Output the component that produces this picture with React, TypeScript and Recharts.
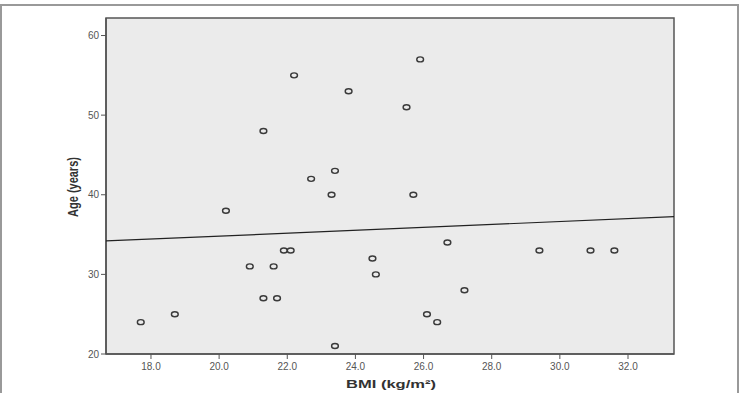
import React from 'react';
import { ScatterChart, Scatter, XAxis, YAxis, CartesianGrid, ReferenceArea } from 'recharts';

// BMI (kg/m²) and age (years) for each subject
const bmiValues = [
  17.7, 18.7, 20.2, 20.9, 21.3, 21.3, 21.6, 21.7, 21.9, 22.1, 22.2, 22.7, 23.3, 23.4,
  23.4, 23.8, 24.5, 24.6, 25.5, 25.9, 25.7, 26.1, 26.4, 26.7, 27.2, 29.4, 30.9, 31.6,
];
const ageValues = [
  24, 25, 38, 31, 27, 48, 31, 27, 33, 33, 55, 42, 40, 43,
  21, 53, 32, 30, 51, 57, 40, 25, 24, 34, 28, 33, 33, 33,
];

// fitted line, read at the two plot edges
const fitBmi = [16.68, 33.35];
const fitAge = [34.2, 37.25];

const xTicks = [18, 20, 22, 24, 26, 28, 30, 32];
const yTicks = [20, 30, 40, 50, 60];

const points = bmiValues.map((bmi, i) => ({ bmi, age: ageValues[i] }));
const fitLine = fitBmi.map((bmi, i) => ({ bmi, age: fitAge[i] }));

const X_MIN = 16.68;
const X_MAX = 33.35;
const Y_MIN = 20;
const Y_MAX = 62.2;

const OpenCircle = (props: any) => {
  const { cx, cy } = props;
  if (cx == null || cy == null) return <g />;
  return <ellipse cx={cx} cy={cy} rx={3.4} ry={2.5} fill="none" stroke="#3a3a3a" strokeWidth={1.4} />;
};

const NoDot = () => <g />;

const XTick = ({ x, y, payload }: any) => (
  <text x={x} y={y + 9} textAnchor="middle" fontSize={10} fill="#555" fontFamily="Liberation Sans, Arial">
    {Number(payload.value).toFixed(1)}
  </text>
);

const YTick = ({ x, y, payload }: any) => (
  <text x={x} y={y + 3.5} textAnchor="end" fontSize={10} fill="#555" fontFamily="Liberation Sans, Arial">
    {payload.value}
  </text>
);

const XLabel = () => (
  <text
    x={346}
    y={388}
    fontSize={11}
    fontWeight="bold"
    fill="#333"
    fontFamily="Liberation Sans, Arial"
    textLength={90}
    lengthAdjust="spacingAndGlyphs"
  >
    BMI (kg/m²)
  </text>
);

// the source image is stretched sideways, so the rotated label is widened too
const YLabel = () => (
  <text
    x={0}
    y={0}
    transform="translate(78 187) scale(1.35 1) rotate(-90)"
    textAnchor="middle"
    fontSize={11}
    fontWeight="bold"
    fill="#333"
    fontFamily="Liberation Sans, Arial"
  >
    Age (years)
  </text>
);

export default function App() {
  return (
    <div style={{ position: 'absolute', left: 0, top: 0, width: 747, height: 393, overflow: 'hidden', background: '#fff' }}>
      <div
        style={{
          position: 'absolute',
          left: 0,
          top: 4,
          width: 739,
          height: 420,
          border: '2px solid #999',
          boxSizing: 'border-box',
        }}
      />
      <div style={{ position: 'absolute', left: 0, top: 0 }}>
        <ScatterChart width={747} height={393} margin={{ top: 18, right: 73, left: 0, bottom: 0 }}>
          <CartesianGrid fill="#ebebeb" horizontal={false} vertical={false} />
          <ReferenceArea
            x1={X_MIN}
            x2={X_MAX}
            y1={Y_MIN}
            y2={Y_MAX}
            fill="#ebebeb"
            fillOpacity={1}
            stroke="#555"
            strokeWidth={1.5}
          />
          <XAxis
            type="number"
            dataKey="bmi"
            domain={[X_MIN, X_MAX]}
            ticks={xTicks}
            allowDataOverflow
            height={39}
            tickSize={5}
            tickLine={{ stroke: '#555' }}
            axisLine={{ stroke: '#555', strokeWidth: 1.5 }}
            tick={<XTick />}
            label={<XLabel />}
          />
          <YAxis
            type="number"
            dataKey="age"
            domain={[Y_MIN, Y_MAX]}
            ticks={yTicks}
            allowDataOverflow
            width={106}
            tickSize={5}
            tickLine={{ stroke: '#555' }}
            axisLine={{ stroke: '#555', strokeWidth: 1.5 }}
            tick={<YTick />}
            label={<YLabel />}
          />
          <Scatter data={points} shape={<OpenCircle />} isAnimationActive={false} />
          <Scatter
            data={fitLine}
            line={{ stroke: '#222', strokeWidth: 1.2 }}
            shape={<NoDot />}
            isAnimationActive={false}
          />
        </ScatterChart>
      </div>
    </div>
  );
}
